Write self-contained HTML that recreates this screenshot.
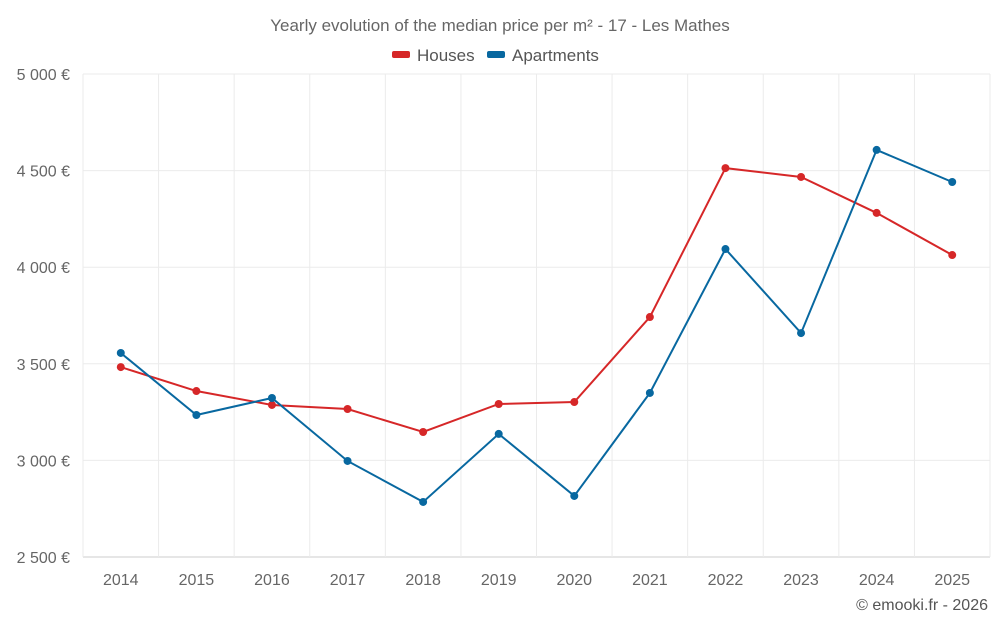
<!DOCTYPE html>
<html><head><meta charset="utf-8">
<style>
body{margin:0;background:#fff;font-family:"Liberation Sans",sans-serif;}
svg text{font-family:"Liberation Sans",sans-serif;}
</style></head>
<body>
<svg id="chart" width="1000" height="625">
<text x="500" y="31" text-anchor="middle" font-size="17" fill="#666">Yearly evolution of the median price per m² - 17 - Les Mathes</text>
<g>
<g><rect x="392" y="51" width="18" height="7" rx="2" fill="#d62728"/><text x="417" y="61" font-size="17" fill="#555">Houses</text></g>
<g><rect x="487" y="51" width="18" height="7" rx="2" fill="#0868a0"/><text x="512" y="61" font-size="17" fill="#555">Apartments</text></g>
</g>
<g id="grid"></g><g id="axes"></g><g id="series"></g>
<text x="988" y="610" text-anchor="end" font-size="16" fill="#555">© emooki.fr - 2026</text>
</svg>
<script>
const years=[2014,2015,2016,2017,2018,2019,2020,2021,2022,2023,2024,2025];
const houses=[3483,3359,3287,3266,3147,3292,3302,3742,4513,4467,4281,4063];
const apartments=[3556,3235,3323,2997,2785,3137,2816,3349,4094,3659,4607,4441];
const yTicks=[2500,3000,3500,4000,4500,5000];
const NS="http://www.w3.org/2000/svg";
const L=83,R=990,T=74,B=557;
const step=(R-L)/years.length;
const x=i=>L+step*(i+0.5);
const y=v=>B-(v-2500)/2500*(B-T);
function mk(p,tag,a){const e=document.createElementNS(NS,tag);for(const k in a)e.setAttribute(k,a[k]);p.appendChild(e);return e;}
const grid=document.getElementById('grid'),axes=document.getElementById('axes'),ser=document.getElementById('series');
yTicks.forEach(t=>{
 const ln=mk(grid,'line',{x1:L,x2:R,y1:y(t),y2:y(t),stroke:t===2500?'#ccc':'#ebebeb'});
 
 
 const tx=mk(axes,'text',{x:70,y:y(t)+6,'text-anchor':'end','font-size':16,fill:'#666'});
 tx.textContent=t.toString().replace(/\B(?=(\d{3})+$)/,' ')+' €';
 
 
});
for(let i=0;i<=years.length;i++){
 const ln=mk(grid,'line',{x1:L+step*i,x2:L+step*i,y1:T,y2:B,stroke:'#ebebeb'});
 
 
}
years.forEach((yr,i)=>{
 const tx=mk(axes,'text',{x:x(i),y:585,'text-anchor':'middle','font-size':16,fill:'#666'});
 tx.textContent=yr;
 
 
});
function draw(vals,color,name){
 const pl=mk(ser,'polyline',{points:vals.map((v,i)=>x(i)+','+y(v)).join(' '),fill:'none',stroke:color,'stroke-width':2});
 
 
 vals.forEach((v,i)=>{
  const c=mk(ser,'circle',{cx:x(i),cy:y(v),r:4,fill:color});
  
  
 });
}
draw(houses,'#d62728','houses');
draw(apartments,'#0868a0','apartments');
</script>
</body></html>
